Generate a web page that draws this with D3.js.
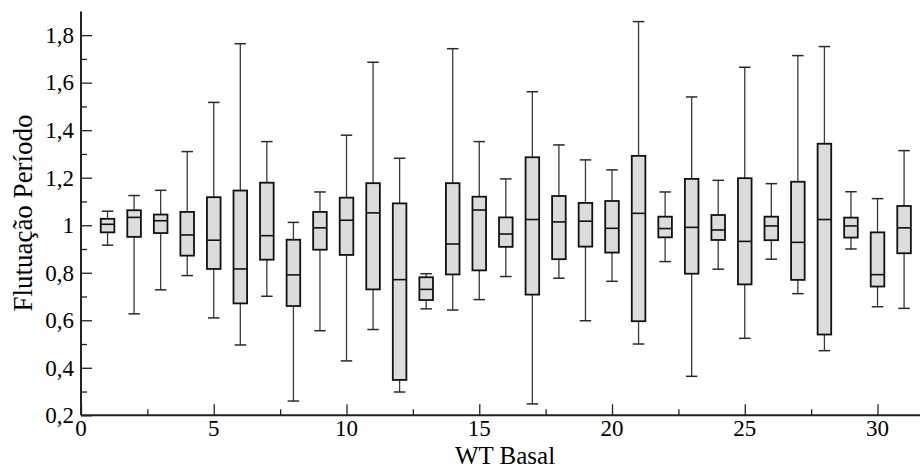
<!DOCTYPE html>
<html>
<head>
<meta charset="utf-8">
<script src="https://cdn.jsdelivr.net/npm/d3@7"></script>
<style>
  body { margin: 0; background: #fff; }
  svg text { font-family: 'Liberation Serif', 'Times New Roman', Times, serif; }
</style>
</head>
<body>
<div class="chart"></div>
<script>
const groups = d3.range(1, 32);
const whiskerLow = [0.916, 0.627, 0.728, 0.788, 0.610, 0.496, 0.701, 0.260, 0.556, 0.429,
  0.561, 0.298, 0.648, 0.643, 0.687, 0.784, 0.248, 0.777, 0.598, 0.764,
  0.500, 0.847, 0.364, 0.815, 0.524, 0.857, 0.712, 0.472, 0.900, 0.657, 0.650];
const q1 = [0.970, 0.951, 0.967, 0.872, 0.816, 0.671, 0.855, 0.660, 0.897, 0.875,
  0.730, 0.349, 0.685, 0.793, 0.810, 0.909, 0.708, 0.857, 0.910, 0.885,
  0.596, 0.949, 0.796, 0.938, 0.751, 0.937, 0.770, 0.540, 0.948, 0.742, 0.882];
const median = [1.004, 1.033, 1.019, 0.959, 0.937, 0.816, 0.956, 0.791, 0.989, 1.021,
  1.052, 0.771, 0.730, 0.921, 1.064, 0.963, 1.024, 1.014, 1.017, 0.987,
  1.050, 0.986, 0.991, 0.980, 0.932, 0.997, 0.928, 1.024, 0.997, 0.792, 0.989];
const q3 = [1.027, 1.063, 1.045, 1.056, 1.118, 1.146, 1.179, 0.939, 1.056, 1.116,
  1.177, 1.092, 0.781, 1.177, 1.120, 1.033, 1.286, 1.123, 1.094, 1.102,
  1.292, 1.036, 1.195, 1.043, 1.198, 1.036, 1.183, 1.343, 1.032, 0.970, 1.081];
const whiskerHigh = [1.059, 1.125, 1.147, 1.310, 1.517, 1.764, 1.352, 1.012, 1.140, 1.379,
  1.686, 1.282, 0.796, 1.743, 1.352, 1.195, 1.562, 1.338, 1.275, 1.233,
  1.857, 1.140, 1.540, 1.189, 1.665, 1.175, 1.714, 1.752, 1.141, 1.112, 1.314];
const xTicks = [0, 5, 10, 15, 20, 25, 30];
const yTicks = [0.2, 0.4, 0.6, 0.8, 1.0, 1.2, 1.4, 1.6, 1.8];

const width = 920;
const height = 469;
const plotLeft = 81;
const plotBottom = 415.3;
const plotTop = 11.4;

const svg = d3.select('.chart').append('svg')
  .attr('width', width)
  .attr('height', height);

const x = d3.scaleLinear().domain([0, 31.6]).range([plotLeft, width]);
const y = d3.scaleLinear().domain([0.2, 1.9]).range([plotBottom, plotTop]);

const boxes = groups.map((g, i) => ({
  g, lo: whiskerLow[i], q1: q1[i], med: median[i], q3: q3[i], hi: whiskerHigh[i]
}));

const boxW = 13.6;
const capW = 11.5;

const box = svg.append('g').selectAll('g')
  .data(boxes)
  .enter()
  .append('g');

// whiskers
box.append('line')
  .attr('x1', d => x(d.g)).attr('x2', d => x(d.g))
  .attr('y1', d => y(d.hi)).attr('y2', d => y(d.q3))
  .attr('stroke', '#3a3a3a').attr('stroke-width', 1.3);
box.append('line')
  .attr('x1', d => x(d.g)).attr('x2', d => x(d.g))
  .attr('y1', d => y(d.q1)).attr('y2', d => y(d.lo))
  .attr('stroke', '#3a3a3a').attr('stroke-width', 1.3);
box.append('line')
  .attr('x1', d => x(d.g) - capW / 2).attr('x2', d => x(d.g) + capW / 2)
  .attr('y1', d => y(d.hi)).attr('y2', d => y(d.hi))
  .attr('stroke', '#2a2a2a').attr('stroke-width', 1.5);
box.append('line')
  .attr('x1', d => x(d.g) - capW / 2).attr('x2', d => x(d.g) + capW / 2)
  .attr('y1', d => y(d.lo)).attr('y2', d => y(d.lo))
  .attr('stroke', '#2a2a2a').attr('stroke-width', 1.5);

box.append('rect')
  .attr('x', d => x(d.g) - boxW / 2)
  .attr('y', d => y(d.q3))
  .attr('width', boxW)
  .attr('height', d => y(d.q1) - y(d.q3))
  .attr('fill', '#dcdcdc')
  .attr('stroke', '#111')
  .attr('stroke-width', 1.8);

box.append('line')
  .attr('x1', d => x(d.g) - boxW / 2).attr('x2', d => x(d.g) + boxW / 2)
  .attr('y1', d => y(d.med)).attr('y2', d => y(d.med))
  .attr('stroke', '#111').attr('stroke-width', 1.6);

// axes with inward ticks
const axisColor = '#222';
const xAxis = svg.append('g').attr('transform', `translate(0,${plotBottom})`)
  .call(d3.axisTop(x).tickValues(xTicks).tickSize(11).tickFormat(''))
  .call(g => g.select('.domain').attr('stroke', axisColor).attr('stroke-width', 2)
    .attr('d', `M${plotLeft},0H${width}`));
xAxis.selectAll('.tick line').attr('stroke', axisColor).attr('stroke-width', 1.3);

svg.append('g').attr('transform', `translate(0,${plotBottom})`)
  .call(d3.axisTop(x).tickValues(d3.range(2.5, 31, 5)).tickSize(6).tickFormat(''))
  .call(g => g.select('.domain').remove())
  .selectAll('.tick line').attr('stroke', axisColor).attr('stroke-width', 1.3);

svg.append('g').selectAll('text')
  .data(xTicks)
  .enter()
  .append('text')
  .attr('x', d => x(d))
  .attr('y', 436)
  .attr('text-anchor', 'middle')
  .style('font-size', '23px')
  .text(d => d);

const yAxis = svg.append('g').attr('transform', `translate(${plotLeft},0)`)
  .call(d3.axisRight(y).tickValues(yTicks).tickSize(11).tickFormat(''))
  .call(g => g.select('.domain').attr('stroke', axisColor).attr('stroke-width', 2)
    .attr('d', `M0,${plotTop}V${plotBottom}`));
yAxis.selectAll('.tick line').attr('stroke', axisColor).attr('stroke-width', 1.3);

svg.append('g').attr('transform', `translate(${plotLeft},0)`)
  .call(d3.axisRight(y).tickValues(d3.range(0.3, 1.8, 0.2)).tickSize(6).tickFormat(''))
  .call(g => g.select('.domain').remove())
  .selectAll('.tick line').attr('stroke', axisColor).attr('stroke-width', 1.3);

const fmt = v => (Math.abs(v - 1) < 1e-9 ? '1' : d3.format('.1f')(v).replace('.', ','));
svg.append('g').selectAll('text')
  .data(yTicks)
  .enter()
  .append('text')
  .attr('x', 74)
  .attr('y', d => y(d))
  .attr('dy', '0.34em')
  .attr('text-anchor', 'end')
  .style('font-size', '23px')
  .text(fmt);

svg.append('text')
  .attr('x', 505)
  .attr('y', 463.5)
  .attr('text-anchor', 'middle')
  .style('font-size', '25px')
  .text('WT Basal');

svg.append('text')
  .attr('transform', 'translate(32,213) rotate(-90)')
  .attr('text-anchor', 'middle')
  .style('font-size', '27px')
  .text('Flutuação Período');
</script>
</body>
</html>
